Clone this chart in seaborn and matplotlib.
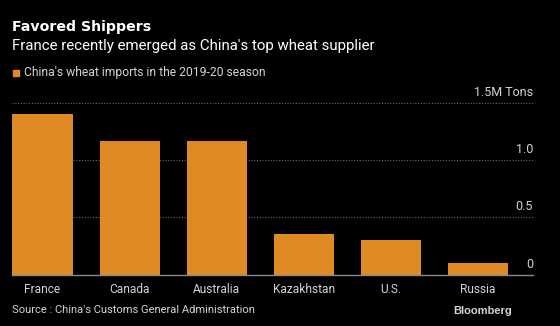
import matplotlib
matplotlib.use("Agg")
import matplotlib.pyplot as plt
import matplotlib.transforms as mtrans
import seaborn as sns
import pandas as pd

countries = ["France", "Canada", "Australia", "Kazakhstan", "U.S.", "Russia"]
imports_mt = [1.40, 1.165, 1.165, 0.352, 0.30, 0.10]
ytick_vals = [0, 0.5, 1.0, 1.5]
ytick_labels = ["0", "0.5", "1.0", "1.5M Tons"]

BG = "#000000"
ORANGE = "#DF8A25"
TXT = "#d4d4d4"

sns.set_theme(style="dark")
plt.rcParams["font.family"] = ["Roboto", "DejaVu Sans"]

df = pd.DataFrame({"country": countries, "value": imports_mt})

fig = plt.figure(figsize=(5.6, 3.26), dpi=100, facecolor=BG)
ax = fig.add_axes([12 / 560, 1 - 274.5 / 326, (533 - 12) / 560, (274.5 - 103) / 326])
ax.set_facecolor(BG)

sns.barplot(data=df, x="country", y="value", color=ORANGE, saturation=1,
            width=0.69, ax=ax, zorder=3, linewidth=0, edgecolor=ORANGE)

ax.set_xlim(-0.35, 5.63)
ax.set_ylim(0, 1.5)
ax.set_xlabel("")
ax.set_ylabel("")

for s in ["top", "left", "right"]:
    ax.spines[s].set_visible(False)
ax.spines["bottom"].set_color("#8a8a8a")
ax.spines["bottom"].set_linewidth(1.0)
ax.spines["bottom"].set_zorder(4)

ax.grid(False)
for v in ytick_vals[1:]:
    ax.axhline(v, color="#6a6a6a", linestyle=(0, (1, 1.5)), linewidth=0.8, zorder=1)

ax.tick_params(axis="x", length=0, pad=6, labelsize=8.6, labelcolor=TXT)
ax.yaxis.tick_right()
ax.set_yticks(ytick_vals)
ax.set_yticklabels(ytick_labels)
ax.tick_params(axis="y", length=0, pad=0, labelsize=9, labelcolor=TXT)
off = mtrans.ScaledTranslation(0, 12 / 100, fig.dpi_scale_trans)
for lab in ax.get_yticklabels():
    lab.set_horizontalalignment("right")
    lab.set_transform(lab.get_transform() + off)

fig.text(12 / 560, 1 - 27 / 326, "Favored Shippers", color="white",
         fontsize=10.2, fontweight="bold", va="center", ha="left",
         family=["DejaVu Sans"])
fig.text(12 / 560, 1 - 46 / 326, "France recently emerged as China's top wheat supplier",
         color="white", fontsize=10.8, va="center", ha="left")
fig.patches.append(plt.Rectangle((13 / 560, 1 - 75.5 / 326), 6 / 560, 6 / 326,
                                 transform=fig.transFigure, color=ORANGE, figure=fig))
fig.text(24 / 560, 1 - 72.5 / 326, "China's wheat imports in the 2019-20 season",
         color=TXT, fontsize=8.75, va="center", ha="left")
fig.text(12 / 560, 1 - 310 / 326, "Source : China's Customs General Administration",
         color=TXT, fontsize=8, va="center", ha="left")
fig.text(512 / 560, 1 - 311 / 326, "Bloomberg", color=TXT, fontsize=8,
         fontweight="bold", va="center", ha="right", family=["Liberation Sans"])

fig.savefig("out.png", dpi=100, facecolor=BG)
